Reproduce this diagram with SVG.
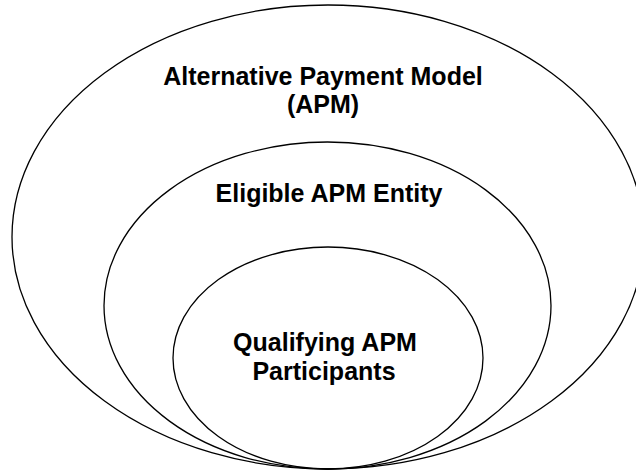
<svg xmlns="http://www.w3.org/2000/svg" width="636" height="472" viewBox="0 0 636 472">
  <style>
    .ring { fill: none; stroke: #000; stroke-width: 1.3; }
    .label { font-family: "Liberation Sans", Arial, sans-serif; font-weight: bold; font-size: 25px; fill: #000; text-anchor: middle; }
  </style>
  <rect width="636" height="472" fill="#fff"/>
  <g id="apm">
    <ellipse class="ring" cx="328" cy="237" rx="316" ry="232"/>
    <text class="label" x="323" y="85">Alternative Payment Model</text>
    <text class="label" x="323" y="113">(APM)</text>
  </g>
  <g id="eligible-apm-entity">
    <ellipse class="ring" cx="327.5" cy="305.5" rx="223.5" ry="163.5"/>
    <text class="label" x="329" y="202">Eligible APM Entity</text>
  </g>
  <g id="qualifying-apm-participants">
    <ellipse class="ring" cx="328" cy="358" rx="155" ry="111"/>
    <text class="label" x="325" y="351">Qualifying APM</text>
    <text class="label" x="324" y="380">Participants</text>
  </g>
</svg>
